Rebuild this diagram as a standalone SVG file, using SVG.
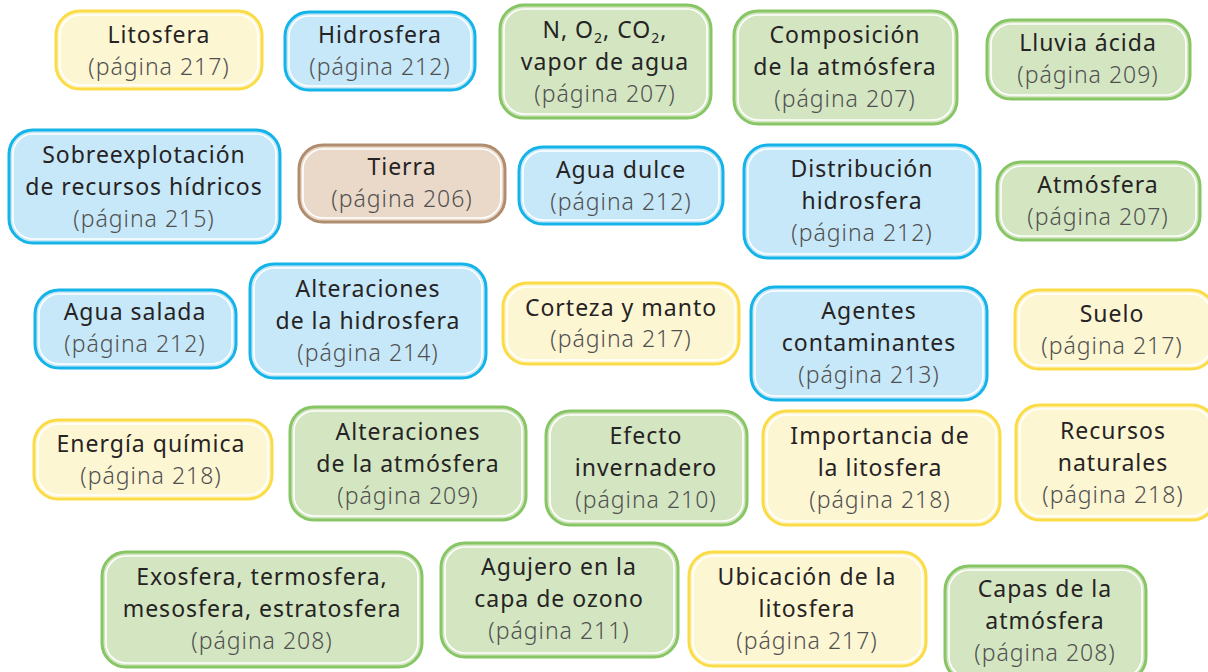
<svg xmlns="http://www.w3.org/2000/svg" width="1208" height="672" viewBox="0 0 1208 672">
<style>
.o{stroke-width:3}
.i{fill:none;stroke:#fff;stroke-width:1.6}
.y .o{fill:#fdf6d3;stroke:#fbdc47}
.b .o{fill:#c7e8f8;stroke:#14b4e8}
.g .o{fill:#d3e6c1;stroke:#87c565}
.t .o{fill:#ead9c9;stroke:#b08d6e}
text{font-family:"Noto Sans","DejaVu Sans",sans-serif;font-size:23px;letter-spacing:1px;text-anchor:middle}
.m{fill:#262324}
.p{fill:#505050;font-weight:300}
.s{font-size:14px}
</style>
<rect width="1208" height="672" fill="#fff"/>
<g id="connectors"/>
<g id="litosfera" class="y"><rect class="o" x="56" y="11" width="206" height="78" rx="24"/><rect class="i" x="60" y="15" width="198" height="70" rx="20"/><text x="159" y="43"><tspan class="m">Litosfera</tspan><tspan class="p" x="159" y="75">(página 217)</tspan></text></g>
<g id="hidrosfera" class="b"><rect class="o" x="285" y="12" width="190" height="78" rx="24"/><rect class="i" x="289" y="16" width="182" height="70" rx="20"/><text x="380" y="43"><tspan class="m">Hidrosfera</tspan><tspan class="p" x="380" y="75">(página 212)</tspan></text></g>
<g id="gases" class="g"><rect class="o" x="500" y="5" width="211" height="113" rx="24"/><rect class="i" x="504" y="9" width="203" height="105" rx="20"/><text x="605" y="38"><tspan class="m">N, O<tspan class="s" dy="5">2</tspan><tspan dy="-5">, CO</tspan><tspan class="s" dy="5">2</tspan><tspan dy="-5">,</tspan></tspan><tspan class="m" x="605" y="70">vapor de agua</tspan><tspan class="p" x="605" y="102">(página 207)</tspan></text></g>
<g id="composicion" class="g"><rect class="o" x="734" y="11" width="223" height="113" rx="24"/><rect class="i" x="738" y="15" width="215" height="105" rx="20"/><text x="845" y="43"><tspan class="m">Composición</tspan><tspan class="m" x="845" y="75">de la atmósfera</tspan><tspan class="p" x="845" y="107">(página 207)</tspan></text></g>
<g id="lluvia" class="g"><rect class="o" x="987" y="20" width="203" height="79" rx="24"/><rect class="i" x="991" y="24" width="195" height="71" rx="20"/><text x="1088" y="51"><tspan class="m">Lluvia ácida</tspan><tspan class="p" x="1088" y="83">(página 209)</tspan></text></g>
<g id="sobreexplotacion" class="b"><rect class="o" x="9" y="130" width="271" height="113" rx="24"/><rect class="i" x="13" y="134" width="263" height="105" rx="20"/><text x="144" y="163"><tspan class="m">Sobreexplotación</tspan><tspan class="m" x="144" y="195">de recursos hídricos</tspan><tspan class="p" x="144" y="227">(página 215)</tspan></text></g>
<g id="tierra" class="t"><rect class="o" x="299" y="145" width="206" height="77" rx="24"/><rect class="i" x="303" y="149" width="198" height="69" rx="20"/><text x="402" y="175"><tspan class="m">Tierra</tspan><tspan class="p" x="402" y="207">(página 206)</tspan></text></g>
<g id="agua-dulce" class="b"><rect class="o" x="519" y="147" width="204" height="77" rx="24"/><rect class="i" x="523" y="151" width="196" height="69" rx="20"/><text x="621" y="178"><tspan class="m">Agua dulce</tspan><tspan class="p" x="621" y="210">(página 212)</tspan></text></g>
<g id="distribucion" class="b"><rect class="o" x="744" y="145" width="236" height="113" rx="24"/><rect class="i" x="748" y="149" width="228" height="105" rx="20"/><text x="862" y="177"><tspan class="m">Distribución</tspan><tspan class="m" x="862" y="209">hidrosfera</tspan><tspan class="p" x="862" y="241">(página 212)</tspan></text></g>
<g id="atmosfera" class="g"><rect class="o" x="997" y="162" width="203" height="78" rx="24"/><rect class="i" x="1001" y="166" width="195" height="70" rx="20"/><text x="1098" y="193"><tspan class="m">Atmósfera</tspan><tspan class="p" x="1098" y="225">(página 207)</tspan></text></g>
<g id="agua-salada" class="b"><rect class="o" x="35" y="290" width="201" height="78" rx="24"/><rect class="i" x="39" y="294" width="193" height="70" rx="20"/><text x="135" y="320"><tspan class="m">Agua salada</tspan><tspan class="p" x="135" y="352">(página 212)</tspan></text></g>
<g id="alteraciones-hidrosfera" class="b"><rect class="o" x="250" y="264" width="236" height="114" rx="24"/><rect class="i" x="254" y="268" width="228" height="106" rx="20"/><text x="368" y="297"><tspan class="m">Alteraciones</tspan><tspan class="m" x="368" y="329">de la hidrosfera</tspan><tspan class="p" x="368" y="361">(página 214)</tspan></text></g>
<g id="corteza" class="y"><rect class="o" x="503" y="283" width="236" height="81" rx="24"/><rect class="i" x="507" y="287" width="228" height="73" rx="20"/><text x="621" y="316"><tspan class="m">Corteza y manto</tspan><tspan class="p" x="621" y="347">(página 217)</tspan></text></g>
<g id="agentes" class="b"><rect class="o" x="751" y="287" width="236" height="113" rx="24"/><rect class="i" x="755" y="291" width="228" height="105" rx="20"/><text x="869" y="319"><tspan class="m">Agentes</tspan><tspan class="m" x="869" y="351">contaminantes</tspan><tspan class="p" x="869" y="383">(página 213)</tspan></text></g>
<g id="suelo" class="y"><rect class="o" x="1015" y="290" width="200" height="79" rx="24"/><rect class="i" x="1019" y="294" width="192" height="71" rx="20"/><text x="1112" y="322"><tspan class="m">Suelo</tspan><tspan class="p" x="1112" y="354">(página 217)</tspan></text></g>
<g id="energia" class="y"><rect class="o" x="34" y="420" width="238" height="79" rx="24"/><rect class="i" x="38" y="424" width="230" height="71" rx="20"/><text x="151" y="452"><tspan class="m">Energía química</tspan><tspan class="p" x="151" y="484">(página 218)</tspan></text></g>
<g id="alteraciones-atmosfera" class="g"><rect class="o" x="290" y="407" width="236" height="113" rx="24"/><rect class="i" x="294" y="411" width="228" height="105" rx="20"/><text x="408" y="440"><tspan class="m">Alteraciones</tspan><tspan class="m" x="408" y="472">de la atmósfera</tspan><tspan class="p" x="408" y="504">(página 209)</tspan></text></g>
<g id="efecto" class="g"><rect class="o" x="546" y="411" width="201" height="114" rx="24"/><rect class="i" x="550" y="415" width="193" height="106" rx="20"/><text x="646" y="444"><tspan class="m">Efecto</tspan><tspan class="m" x="646" y="476">invernadero</tspan><tspan class="p" x="646" y="508">(página 210)</tspan></text></g>
<g id="importancia" class="y"><rect class="o" x="763" y="411" width="237" height="114" rx="24"/><rect class="i" x="767" y="415" width="229" height="106" rx="20"/><text x="880" y="444"><tspan class="m">Importancia de</tspan><tspan class="m" x="880" y="476">la litosfera</tspan><tspan class="p" x="880" y="508">(página 218)</tspan></text></g>
<g id="recursos" class="y"><rect class="o" x="1016" y="405" width="200" height="115" rx="24"/><rect class="i" x="1020" y="409" width="192" height="107" rx="20"/><text x="1113" y="439"><tspan class="m">Recursos</tspan><tspan class="m" x="1113" y="471">naturales</tspan><tspan class="p" x="1113" y="503">(página 218)</tspan></text></g>
<g id="exosfera" class="g"><rect class="o" x="102" y="552" width="320" height="115" rx="24"/><rect class="i" x="106" y="556" width="312" height="107" rx="20"/><text x="262" y="585"><tspan class="m">Exosfera, termosfera,</tspan><tspan class="m" x="262" y="617">mesosfera, estratosfera</tspan><tspan class="p" x="262" y="649">(página 208)</tspan></text></g>
<g id="agujero" class="g"><rect class="o" x="441" y="543" width="237" height="114" rx="24"/><rect class="i" x="445" y="547" width="229" height="106" rx="20"/><text x="559" y="575"><tspan class="m">Agujero en la</tspan><tspan class="m" x="559" y="607">capa de ozono</tspan><tspan class="p" x="559" y="639">(página 211)</tspan></text></g>
<g id="ubicacion" class="y"><rect class="o" x="689" y="552" width="237" height="114" rx="24"/><rect class="i" x="693" y="556" width="229" height="106" rx="20"/><text x="807" y="585"><tspan class="m">Ubicación de la</tspan><tspan class="m" x="807" y="617">litosfera</tspan><tspan class="p" x="807" y="649">(página 217)</tspan></text></g>
<g id="capas" class="g"><rect class="o" x="945" y="566" width="201" height="115" rx="24"/><rect class="i" x="949" y="570" width="193" height="107" rx="20"/><text x="1045" y="597"><tspan class="m">Capas de la</tspan><tspan class="m" x="1045" y="629">atmósfera</tspan><tspan class="p" x="1045" y="661">(página 208)</tspan></text></g>
</svg>
